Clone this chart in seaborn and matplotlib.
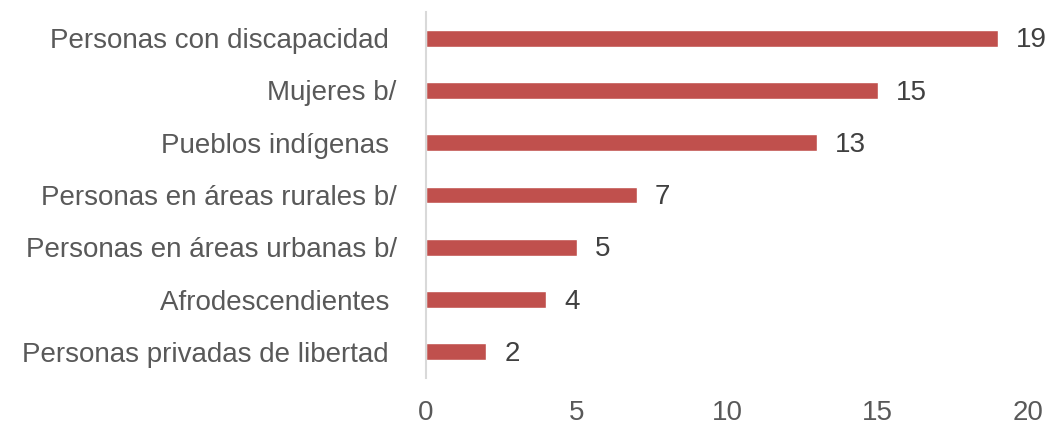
import matplotlib
matplotlib.use("Agg")
import matplotlib.pyplot as plt
import seaborn as sns
import pandas as pd

categories = [
    "Personas con discapacidad ",
    "Mujeres b/",
    "Pueblos indígenas ",
    "Personas en áreas rurales b/",
    "Personas en áreas urbanas b/",
    "Afrodescendientes ",
    "Personas privadas de libertad ",
]
values = [19, 15, 13, 7, 5, 4, 2]
xticks = [0, 5, 10, 15, 20]

df = pd.DataFrame({"cat": categories, "val": values})

sns.set_theme(style="white")
plt.rcParams["font.family"] = ["Liberation Sans", "DejaVu Sans"]

fig = plt.figure(figsize=(10.48, 4.26), dpi=100)
ax = fig.add_axes([426 / 1048, 1 - 378 / 426, (1028 - 426) / 1048, (378 - 12) / 426])

sns.barplot(data=df, x="val", y="cat", orient="h", color="#C0504D",
            saturation=1, width=0.32, ax=ax)

ax.set_xlim(0, 20)
ax.set_ylim(6.5, -0.5)
ax.set_xticks(xticks)
ax.set_xlabel("")
ax.set_ylabel("")
for s in ["top", "right", "bottom"]:
    ax.spines[s].set_visible(False)
ax.spines["left"].set_color("#D9D9D9")
ax.spines["left"].set_linewidth(1.5)
ax.tick_params(axis="y", length=0, pad=21, labelsize=20, labelcolor="#595959")
ax.tick_params(axis="x", length=0, pad=16, labelsize=20, labelcolor="#595959")

for i, v in enumerate(values):
    ax.text(v + 0.6, i + 0.04, str(v), va="center", ha="left", fontsize=20, color="#404040")

fig.savefig("out.png", dpi=100)
